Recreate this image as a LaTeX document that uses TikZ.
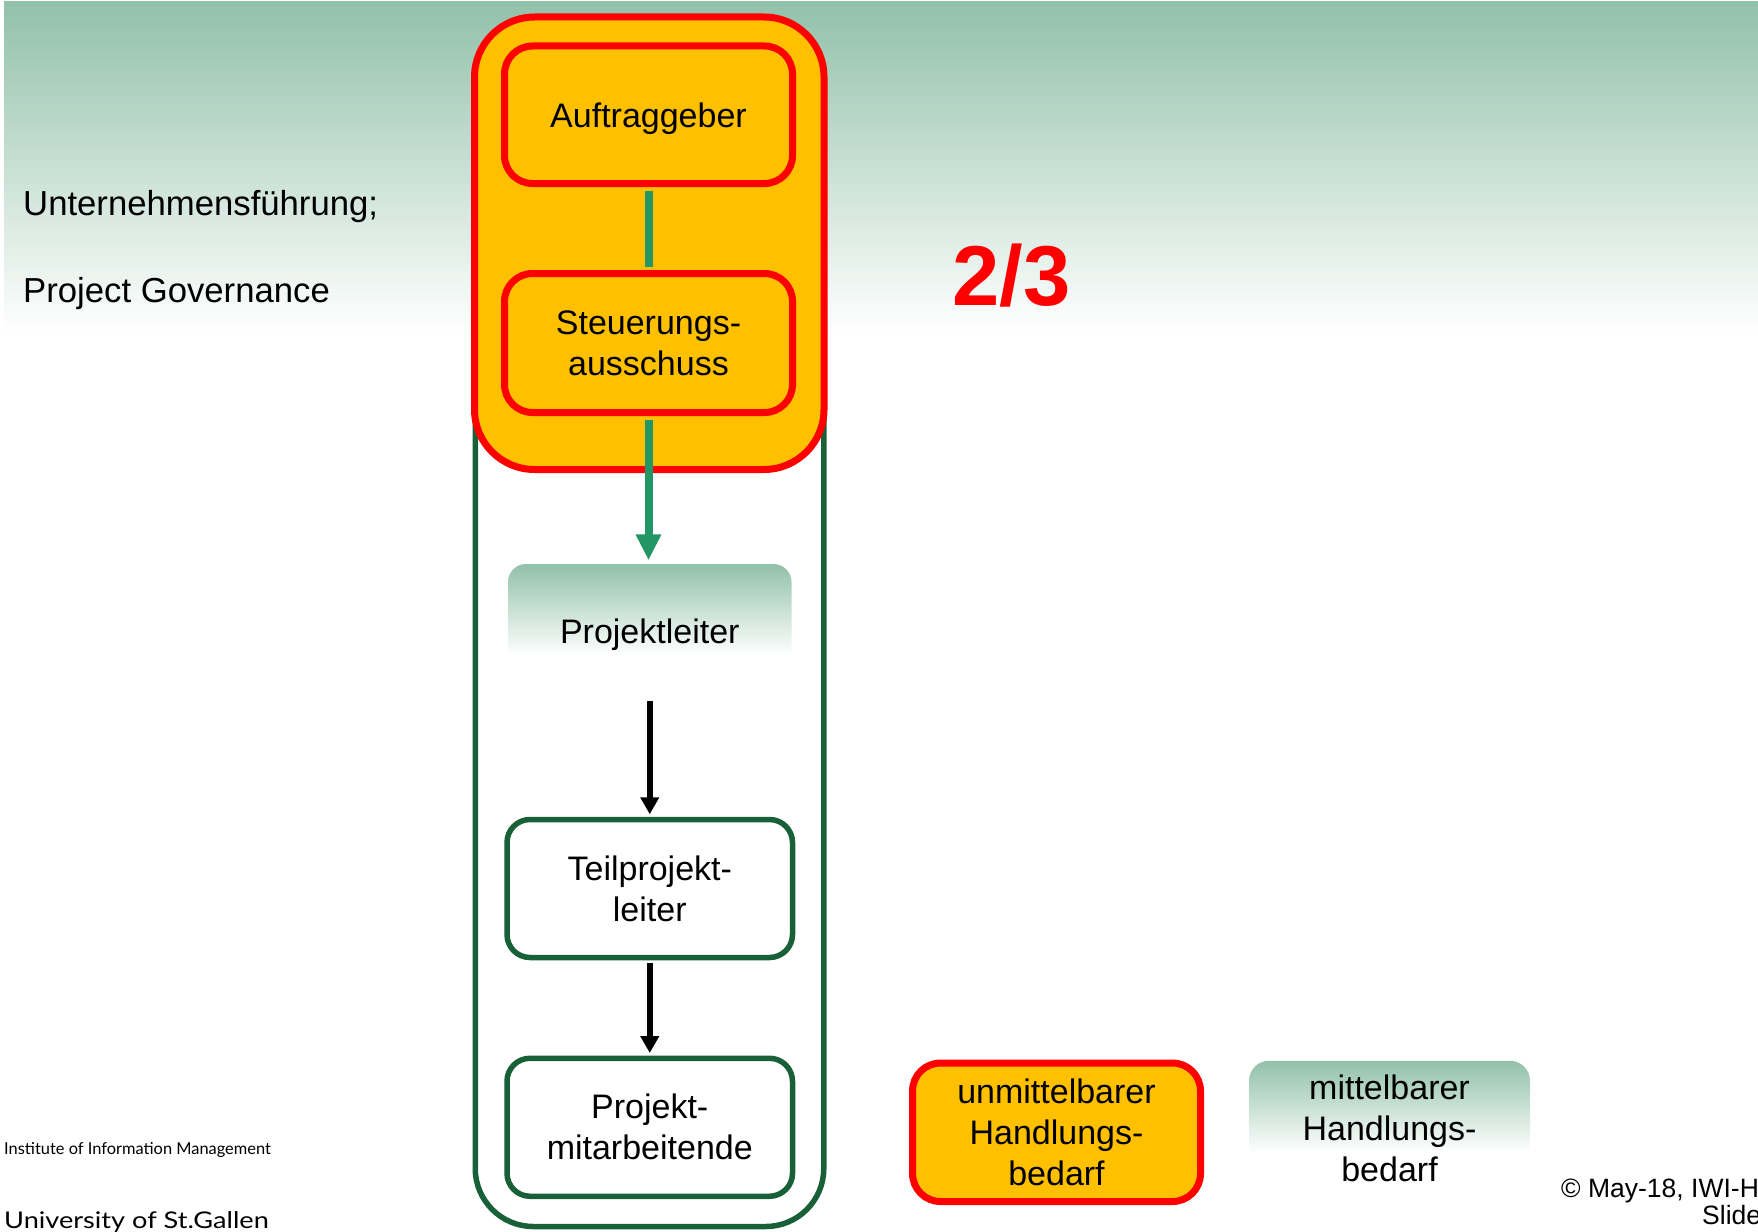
\documentclass[tikz,border=0pt]{standalone}
\usepackage{fontspec}
\setmainfont{Liberation Sans}
\newfontfamily\unifont{Lato}
\usetikzlibrary{arrows.meta}

\definecolor{bggreen}{RGB}{146,193,170}
\definecolor{boxorange}{RGB}{255,192,0}
\definecolor{framegreen}{RGB}{24,96,56}
\definecolor{linkgreen}{RGB}{34,150,100}

% green at the top of a box, fading to white over its upper two thirds
\pgfdeclareverticalshading{boxfade}{100bp}{color(0bp)=(white); color(41bp)=(white); color(75bp)=(bggreen); color(100bp)=(bggreen)}

\begin{document}
\begin{tikzpicture}[x=1pt,y=-1pt,
  boxtext/.style={font=\fontsize{34}{41}\selectfont, align=center},
  govbox/.style={draw=red, fill=boxorange, line width=7pt, rounded corners=28pt, inner sep=0pt, boxtext},
  teambox/.style={draw=framegreen, fill=white, line width=5.5pt, rounded corners=23pt, inner sep=0pt, boxtext},
  fadebox/.style={shade, shading=boxfade, rounded corners=18pt, inner sep=0pt, boxtext},
  link/.style={draw=linkgreen, line width=8pt},
  order/.style={draw=black, line width=6.5pt, -{Triangle[length=17pt,width=18pt]}},
  plain/.style={font=\fontsize{34.7}{41}\selectfont, anchor=base west, inner sep=0pt},
]
\useasboundingbox (0,0) rectangle (1758,1231);
\clip (0,0) rectangle (1758,1231);

% header band
\shade[top color=bggreen, bottom color=white] (4,2) rectangle (1758,333);

% project frame and governance frame
\node[draw=framegreen, line width=5.5pt, rounded corners=58pt, minimum width=348.5pt, minimum height=1209pt, inner sep=0pt] (team) at (649.5,622) {};
\node[govbox, rounded corners=60pt, minimum width=349.5pt, minimum height=452.5pt] (gov) at (649.25,243.25) {};

% roles
\node[govbox, minimum width=288pt, minimum height=137.5pt, text depth=0pt] (auf) at (648.5,114.75) {Auftraggeber};
\node[govbox, minimum width=288pt, minimum height=139pt] (sa) at (648.5,343) {Steuerungs-\\ausschuss};
\node[fadebox, minimum width=283.5pt, minimum height=134pt, text depth=0pt] (pl) at (649.75,631) {Projektleiter};
\node[teambox, minimum width=285.5pt, minimum height=138pt] (tp) at (649.75,888.5) {Teilprojekt-\\leiter};
\node[teambox, minimum width=285.5pt, minimum height=138pt] (pm) at (649.75,1127.25) {Projekt-\\mitarbeitende};

% legend
\node[govbox, minimum width=288pt, minimum height=138.5pt] (urgent) at (1056.5,1132.25) {unmittelbarer\\Handlungs-\\bedarf};
\node[fadebox, rounded corners=20pt, minimum width=281pt, minimum height=134.5pt] (mediate) at (1389.5,1128) {mittelbarer\\Handlungs-\\bedarf};

% connectors
\draw[link, shorten <=3.5pt, shorten >=3.5pt] (auf.south) -- (sa.north);
\draw[link, shorten <=3.5pt, shorten >=3.5pt, -{Triangle[length=26pt,width=24pt]}] (sa.south) -- (sa.south |- pl.north);
\draw[order, shorten <=3pt, shorten >=2.5pt] (pl.south) -- (tp.north);
\draw[order, shorten <=2.5pt, shorten >=2.5pt] (tp.south) -- (pm.north);

% texts
\node[plain] (lead1) at (23,215) {Unternehmensführung;};
\node[plain] (lead2) at (23,302) {Project Governance};
\node[anchor=base west, inner sep=0pt, text=red, font=\bfseries\fontsize{85}{85}\selectfont] (share) at (952,305) {2/3};
\node[anchor=base west, inner sep=0pt, font=\unifont\fontsize{16.4}{16.4}\selectfont] (inst) at (4,1154) {Institute of Information Management};
\node[anchor=base west, inner sep=0pt, font=\unifont\fontsize{23}{23}\selectfont] (univ) at (4,1228) {\scalebox{1.18}[1]{University of St.Gallen}};
\node[anchor=base west, inner sep=0pt, font=\fontsize{26.5}{26.5}\selectfont] (copy) at (1561,1197) {© May-18, IWI-H};
\node[anchor=base west, inner sep=0pt, font=\fontsize{26.5}{26.5}\selectfont] (slide) at (1702,1224) {Slide};
\end{tikzpicture}
\end{document}
